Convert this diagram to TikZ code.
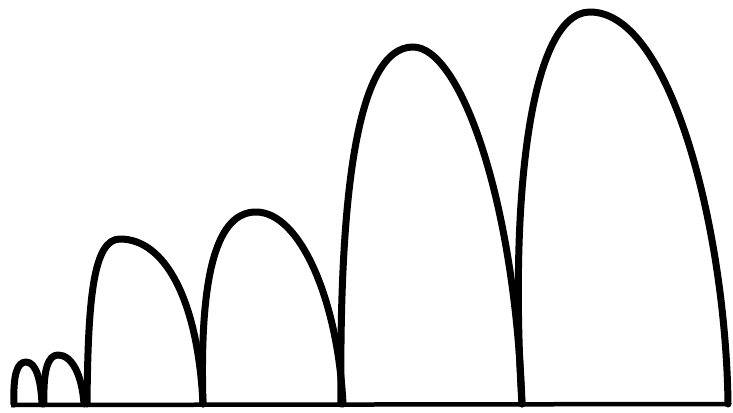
\documentclass[tikz,border=0pt]{standalone}
\begin{document}
\begin{tikzpicture}[x=1pt,y=-1pt,
  arch/.style={line width=7pt,line cap=round,line join=round},
  ground/.style={line width=4.5pt}]
\useasboundingbox (0,0) rectangle (733,412);
% baseline
\draw[ground] (11,405) -- (730,404);
% arch 1
\draw[arch] (14,404) .. controls (13,375) and (17,362) .. (26,362)
  .. controls (36,362) and (41,380) .. (42,404);
% arch 2
\draw[arch] (44,404) .. controls (43,370) and (48,355) .. (58,355)
  .. controls (72,355) and (82,375) .. (84,404);
% arch 3
\draw[arch] (87,404) .. controls (88,300) and (93,239) .. (120,239)
  .. controls (165,239) and (198,300) .. (203,404);
% arch 4
\draw[arch] (203,404) .. controls (199,270) and (218,212) .. (256,212)
  .. controls (300,212) and (338,300) .. (343,404);
% arch 5
\draw[arch] (341,404) .. controls (339,200) and (356,47) .. (413,47)
  .. controls (460,47) and (515,200) .. (522,404);
% arch 6
\draw[arch] (522,404) .. controls (509,200) and (530,12) .. (590,12)
  .. controls (672,12) and (726,235) .. (728,404);
\end{tikzpicture}
\end{document}
